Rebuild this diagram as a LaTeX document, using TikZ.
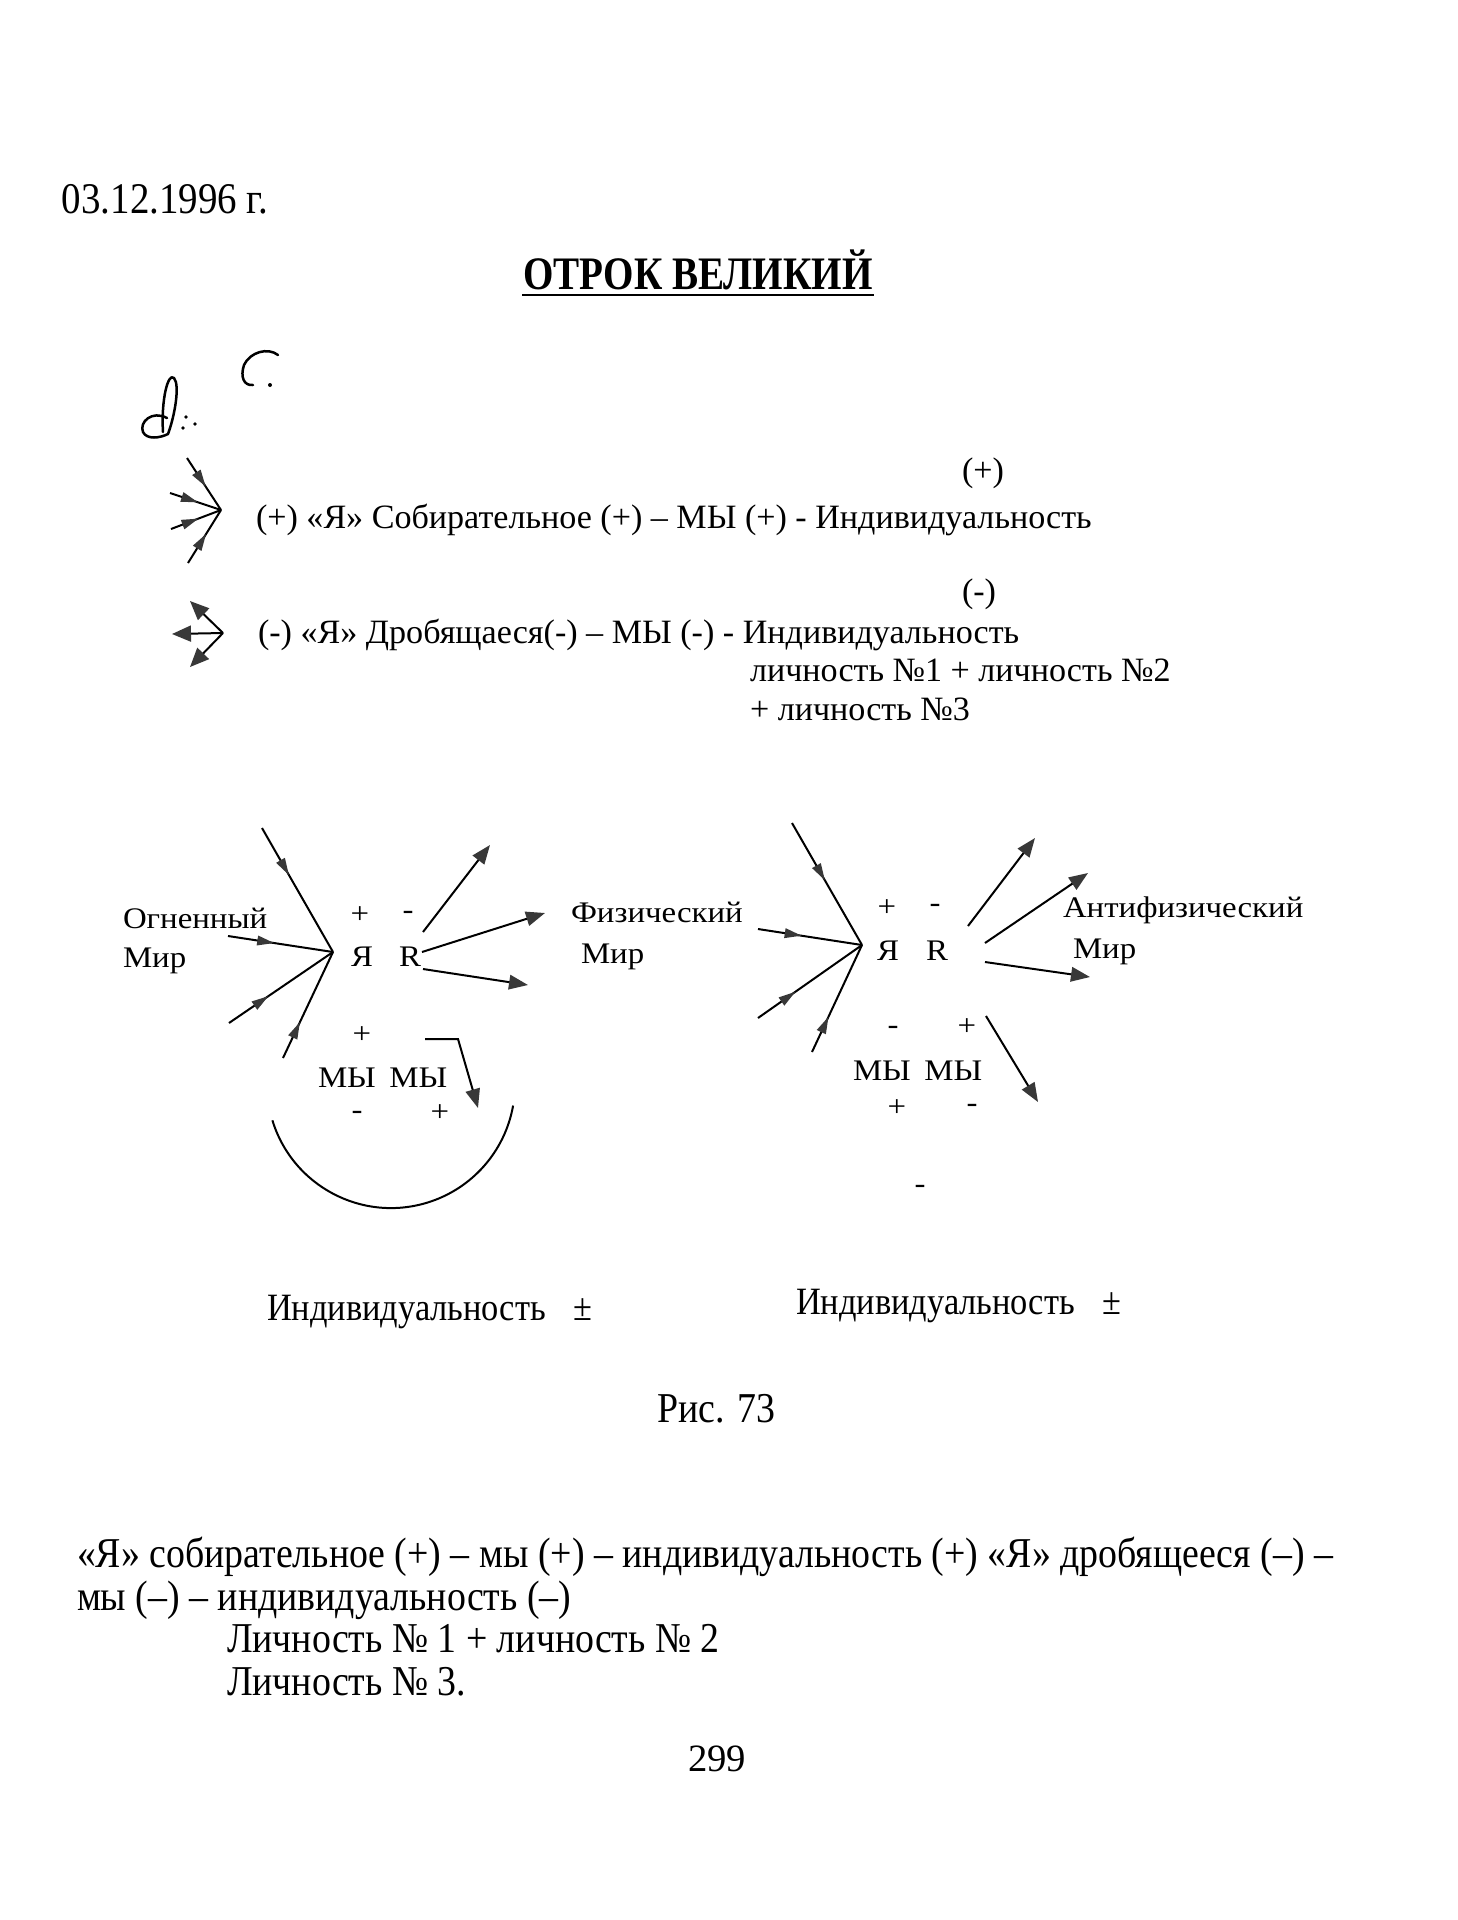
\documentclass[tikz,border=0pt]{standalone}
\usepackage{fontspec}
\setmainfont{Liberation Serif}
\newfontfamily\diaf[FakeStretch=1.1]{Liberation Serif}
\newfontfamily\condf[FakeStretch=0.89]{Liberation Serif}
\newfontfamily\titf[FakeStretch=0.84]{Liberation Serif}
\usetikzlibrary{arrows.meta,decorations.markings}
\definecolor{tipgray}{gray}{0.22}
\newcommand\fsMain{\fontsize{19.4}{23}\selectfont}
\newcommand\fsDia{\diaf\fontsize{17}{20}\selectfont}
\newcommand\fsCond{\condf\fontsize{24.2}{28}\selectfont}
\newcommand\fsDate{\condf\fontsize{24.9}{28}\selectfont}
\newcommand\fsCondS{\condf\fontsize{22}{26}\selectfont}
\newcommand\fsTitle{\titf\bfseries\fontsize{26.5}{30}\selectfont}
\begin{document}
\begin{tikzpicture}[x=0.2mm,y=-0.2mm,line width=0.4mm,
  tx/.style={inner sep=0pt,anchor=base west,font=\fsMain},
  dia/.style={inner sep=0pt,anchor=base west,font=\fsDia},
  sgn/.style={inner sep=0pt,anchor=center,font=\fsDia},
  cnd/.style={inner sep=0pt,anchor=base west,font=\fsCond},
  cnds/.style={inner sep=0pt,anchor=base west,font=\fsCondS},
  midarrow/.style={postaction={decorate},decoration={markings,
     mark=at position #1 with {\arrow{Triangle[length=3.4mm,width=1.9mm,color=tipgray]}}}},
  midarrow/.default=0.38,
  bigarrow/.style={-{Triangle[length=3.8mm,width=2.9mm,color=tipgray]}},
  iconarrow/.style={-{Triangle[length=3.8mm,width=3.2mm,color=tipgray]}},
  hand/.style={line width=0.5mm,line cap=round,line join=round}]
\fill[white] (0,0) rectangle (1458,1920);
\useasboundingbox (0,0) rectangle (1458,1920);

% header
\node[inner sep=0pt,anchor=base west,font=\fsDate] (date) at (61,213) {03.12.1996 г.};
\node[inner sep=0pt,anchor=base,font=\fsTitle] (title) at (698,289) {ОТРОК ВЕЛИКИЙ};
\draw[line width=0.35mm] ([yshift=-1.2mm]title.base west) -- ([yshift=-1.2mm]title.base east);

% handwritten marks
\draw[hand] (167,418) .. controls (152,410) and (139,422) .. (143,432)
  .. controls (147,440) and (160,438) .. (168,434)
  .. controls (175,415) and (180,385) .. (174,378)
  .. controls (168,372) and (161,400) .. (163,432);
\fill (186,417) circle[radius=1.8];
\fill (183,428) circle[radius=1.8];
\fill (195,424) circle[radius=1.8];
\draw[hand] (278,355) .. controls (268,347) and (250,352) .. (244,365)
  .. controls (240,377) and (244,386) .. (253,385);
\fill (270,385) circle[radius=2];

% icon 1 (converging)
\coordinate (i1) at (221,510);
\coordinate (i1a) at (187,458);
\coordinate (i1b) at (170,493);
\coordinate (i1c) at (171,529);
\coordinate (i1d) at (188,563);
\foreach \s in {i1a,i1b,i1c,i1d} \draw[midarrow=0.55] (\s) -- (i1);

% icon 2 (diverging)
\coordinate (i2) at (223,633);
\coordinate (i2a) at (190,601);
\coordinate (i2b) at (172,634);
\coordinate (i2c) at (190,667);
\foreach \s in {i2a,i2b,i2c} \draw[iconarrow] (i2) -- (\s);

% text lines
\node[tx] (l1) at (255,528) {(+) «Я» Собирательное (+) – МЫ (+) - Индивидуальность};
\node[tx] (l1s) at (961,481) {(+)};
\node[tx] (l2) at (257,643) {(-) «Я» Дробящаеся(-) – МЫ (-) - Индивидуальность};
\node[tx] (l2s) at (961,602) {(-)};
\node[tx] (l3) at (749,681) {личность №1 + личность №2};
\node[tx] (l4) at (749,720) {+ личность №3};

% diagram 1
\node[dia] (og) at (122,928) {Огненный};
\node[dia] (ogm) at (122,967) {Мир};
\coordinate (P1) at (333,952);
\coordinate (a1) at (262,828);
\coordinate (a2) at (228,936);
\coordinate (a3) at (229,1023);
\coordinate (a4) at (283,1058);
\draw[midarrow=0.38] (a1) -- (P1);
\draw[midarrow=0.44] (a2) -- (P1);
\draw[midarrow=0.38] (a3) -- (P1);
\draw[midarrow=0.34] (a4) -- (P1);
\node[sgn] (p1p) at (360,915) {+};
\node[sgn] (p1m) at (408,915) {-};
\node[inner sep=0pt,anchor=base,font=\fsDia] (ya1) at (362,966) {Я};
\node[inner sep=0pt,anchor=base,font=\fsDia] (r1) at (410,966) {R};
\coordinate (b1s) at (423,932); \coordinate (b1e) at (490,845);
\coordinate (b2s) at (422,952); \coordinate (b2e) at (545,913);
\coordinate (b3s) at (423,969); \coordinate (b3e) at (528,985);
\draw[bigarrow] (b1s) -- (b1e);
\draw[bigarrow] (b2s) -- (b2e);
\draw[bigarrow] (b3s) -- (b3e);
\node[sgn] (p1p2) at (362,1035) {+};
\node[dia] (my1) at (317,1087) {МЫ\hspace{0.45em}МЫ};
\node[sgn] (p1m3) at (357,1115) {-};
\node[sgn] (p1p3) at (440,1113) {+};
\coordinate (lp1) at (425,1039);
\coordinate (lp2) at (458,1039);
\coordinate (lp3) at (478,1108);
\draw[bigarrow] (lp1) -- (lp2) -- (lp3);
\coordinate (arcL) at (272.4,1120.3);
\draw (arcL) arc[start angle=163,end angle=10,radius=124];

% diagram 2
\node[dia] (fz) at (570,922) {Физический};
\node[dia] (fzm) at (580,963) {Мир};
\coordinate (P2) at (862,945);
\coordinate (c1) at (792,823);
\coordinate (c2) at (758,929);
\coordinate (c3) at (758,1018);
\coordinate (c4) at (812,1052);
\draw[midarrow=0.47] (c1) -- (P2);
\draw[midarrow=0.42] (c2) -- (P2);
\draw[midarrow=0.36] (c3) -- (P2);
\draw[midarrow=0.33] (c4) -- (P2);
\node[sgn] (q1p) at (887,908) {+};
\node[sgn] (q1m) at (935,908) {-};
\node[inner sep=0pt,anchor=base,font=\fsDia] (ya2) at (888,960) {Я};
\node[inner sep=0pt,anchor=base,font=\fsDia] (r2) at (937,960) {R};
\coordinate (d1s) at (968,926); \coordinate (d1e) at (1035,838);
\coordinate (d2s) at (985,943); \coordinate (d2e) at (1088,873);
\coordinate (d3s) at (985,962); \coordinate (d3e) at (1090,977);
\draw[bigarrow] (d1s) -- (d1e);
\draw[bigarrow] (d2s) -- (d2e);
\draw[bigarrow] (d3s) -- (d3e);
\node[dia] (af) at (1062,917) {Антифизический};
\node[dia] (afm) at (1072,958) {Мир};
\node[sgn] (q2m) at (893,1030) {-};
\node[sgn] (q2p) at (967,1027) {+};
\node[dia] (my2) at (852,1080) {МЫ\hspace{0.45em}МЫ};
\node[sgn] (q3p) at (897,1108) {+};
\node[sgn] (q3m) at (972,1108) {-};
\coordinate (e1) at (986,1016);
\coordinate (e2) at (1038,1102);
\draw[bigarrow] (e1) -- (e2);
\node[sgn] (q4m) at (920,1189) {-};

% bottom labels
\node[cnds] (ind1) at (266,1320) {Индивидуальность\hspace{0.7em}±};
\node[cnds] (ind2) at (795,1314) {Индивидуальность\hspace{0.7em}±};
\node[cnd] (fig) at (656,1422) {Рис. 73};

% paragraph
\node[cnd] (t1) at (76,1567) {«Я» собирательное (+) – мы (+) – индивидуальность (+) «Я» дробящееся (–) –};
\node[cnd] (t2) at (76,1610) {мы (–) – индивидуальность (–)};
\node[cnd] (t3) at (226,1652) {Личность № 1 + личность № 2};
\node[cnd] (t4) at (226,1695) {Личность № 3.};
\node[inner sep=0pt,anchor=base west,font={\fontsize{22}{26}\selectfont}] (pg) at (687,1771) {299};
\end{tikzpicture}
\end{document}
